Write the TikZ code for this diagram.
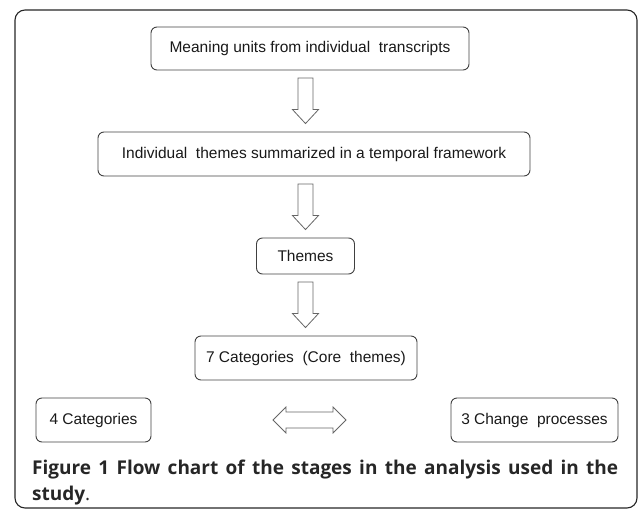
\documentclass[tikz,border=0pt]{standalone}
\usepackage{fontspec}
\setmainfont{Liberation Sans}
\newfontfamily\capfont{Open Sans}
\usetikzlibrary{calc}

\tikzset{
    stagebox/.style={draw=black!75, line width=0.9pt, rounded corners=6pt,
        inner sep=0pt, font=\fontsize{15.5}{18}\selectfont, text=black!90},
    hollow/.style={draw=black!60, line width=0.8pt, fill=white, line join=miter},
    frame/.style={draw=black!85, line width=1.1pt, rounded corners=10pt}
}

% hollow arrow pointing down, from below node #1 to above node #2
\newcommand{\flowdown}[2]{%
    \draw[hollow] let \p1=($(themes |- #1.south)+(0,7.5)$), \p2=($(themes |- #2.north)+(0,-8)$) in
        (\x1-7.5pt,\y1) -- (\x1+7.5pt,\y1) -- (\x1+7.5pt,\y2+14pt) -- (\x1+13pt,\y2+14pt)
        -- (\x1,\y2) -- (\x1-13pt,\y2+14pt) -- (\x1-7.5pt,\y2+14pt) -- cycle;
}

\begin{document}
\begin{tikzpicture}[x=1pt, y=-1pt]
    \useasboundingbox (0,0) rectangle (638,512);

    % Marco exterior
    \draw[frame] (15,10) rectangle (637,508);

    % Etapas del analisis
    \node[stagebox, minimum width=318pt, minimum height=43pt] (mean) at (310,48.5) {Meaning units from individual\ \ transcripts};
    \node[stagebox, minimum width=432pt, minimum height=44pt] (indiv) at (314,154) {Individual\ \ themes summarized in a temporal framework};
    \node[stagebox, minimum width=98pt, minimum height=36pt] (themes) at (305.5,256) {Themes};
    \node[stagebox, minimum width=222pt, minimum height=44pt] (cats) at (306,358) {7 Categories\ \ (Core\ \ themes)};
    \node[stagebox, minimum width=115pt, minimum height=44pt] (four) at (93.5,420) {4 Categories};
    \node[stagebox, minimum width=167pt, minimum height=44pt] (change) at (534.5,420) {3 Change\ \ processes};

    % Flechas entre etapas
    \flowdown{mean}{indiv}
    \flowdown{indiv}{themes}
    \flowdown{themes}{cats}

    % Flecha doble entre las dos familias
    \coordinate (both) at ($(cats |- four)+(3.5,0)$);
    \draw[hollow] let \p1=(both) in
        (\x1-36.5pt,\y1) -- (\x1-23.5pt,\y1+13pt) -- (\x1-23.5pt,\y1+8pt) -- (\x1+23.5pt,\y1+8pt)
        -- (\x1+23.5pt,\y1+13pt) -- (\x1+36.5pt,\y1) -- (\x1+23.5pt,\y1-13pt) -- (\x1+23.5pt,\y1-8pt)
        -- (\x1-23.5pt,\y1-8pt) -- (\x1-23.5pt,\y1-13pt) -- cycle;

    % Pie de figura
    \node[anchor=north west, inner sep=0pt, text width=586pt, align=justify,
        font=\capfont\fontsize{19}{26}\selectfont, text=black!85] (caption) at (32,460)
        {\textbf{Figure 1 Flow chart of the stages in the analysis used in the\linebreak study}.};
\end{tikzpicture}
\end{document}
